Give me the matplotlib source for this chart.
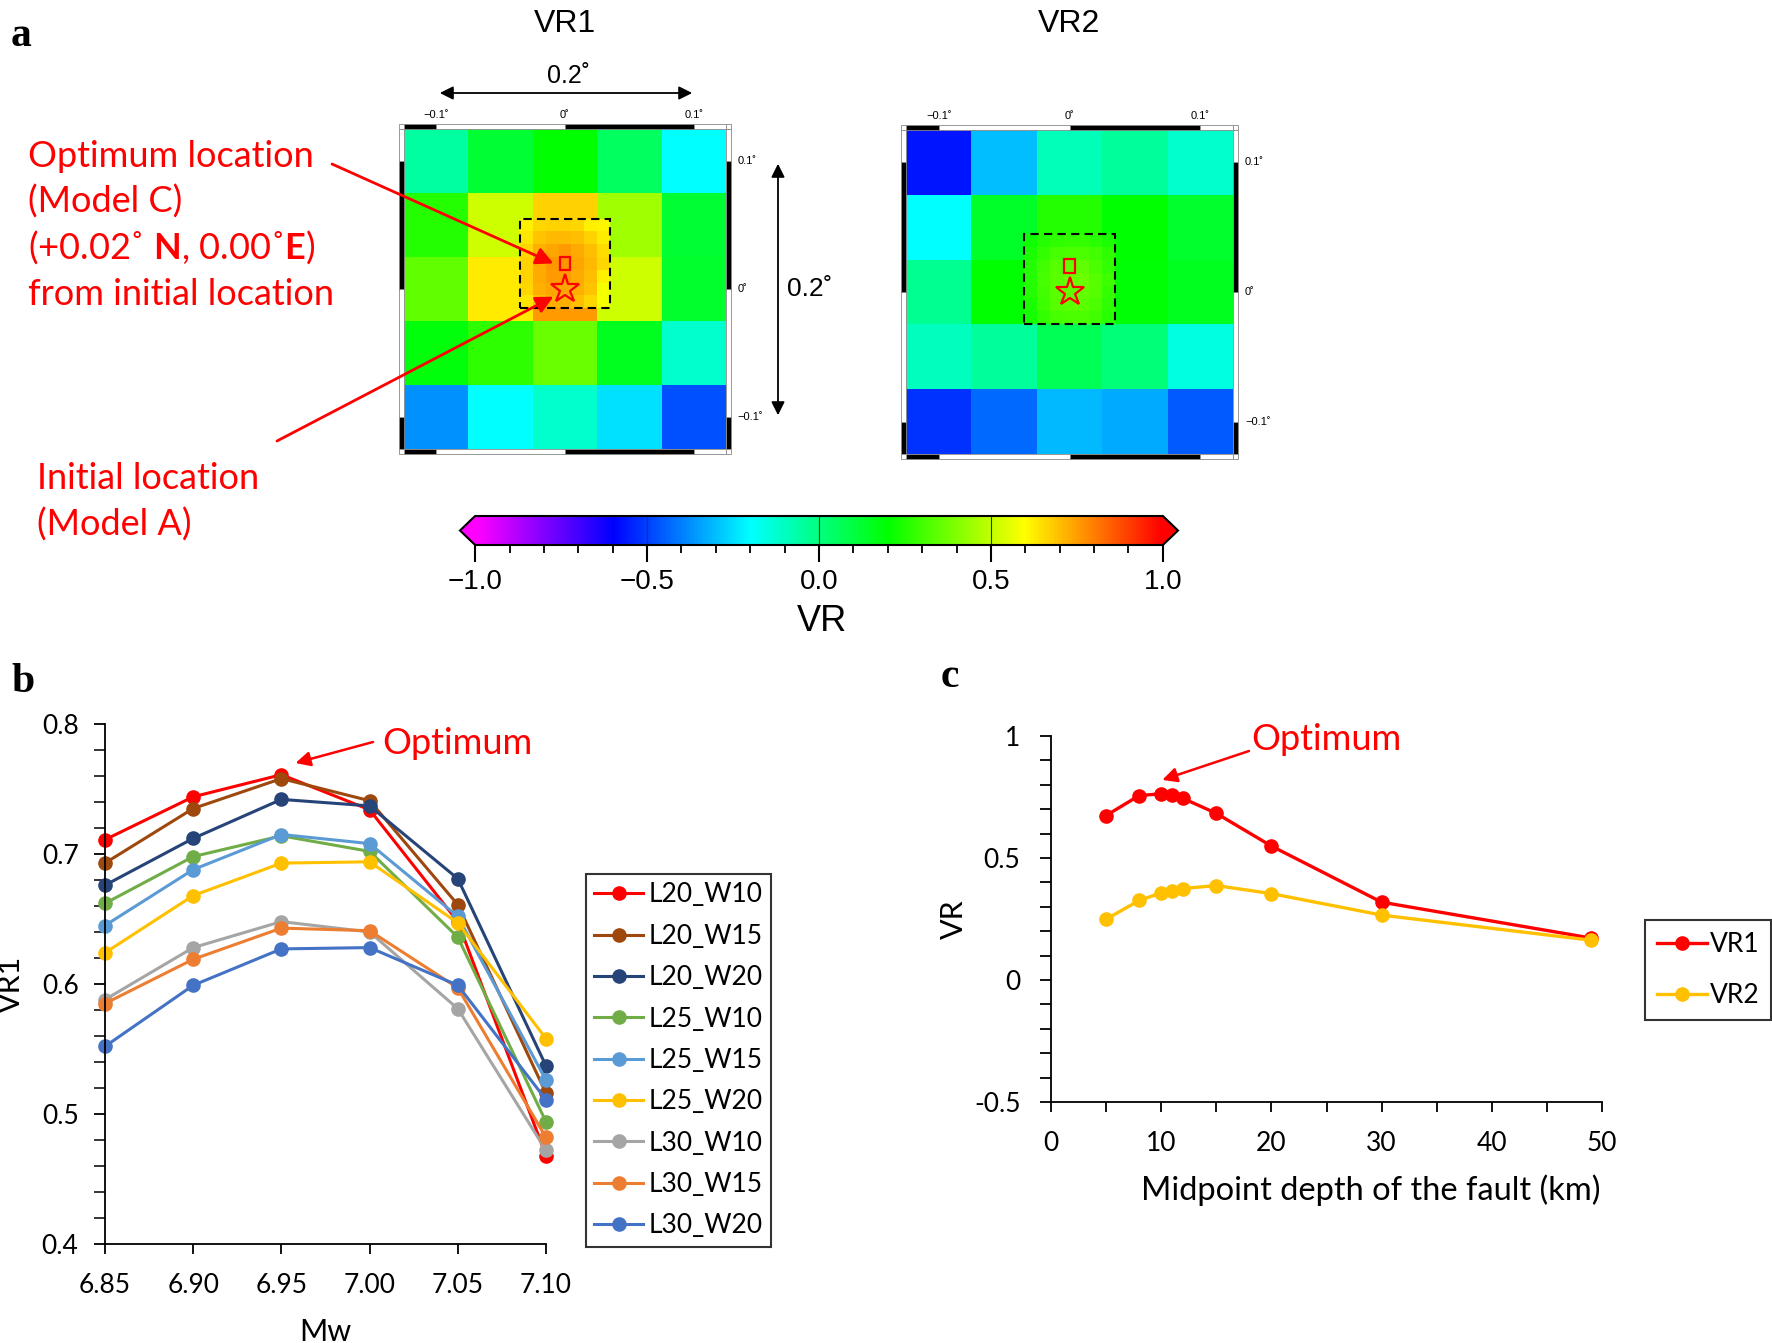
import numpy as np
import matplotlib.pyplot as plt
from matplotlib.colors import LinearSegmentedColormap, Normalize
from matplotlib.patches import Rectangle, FancyArrowPatch
from matplotlib.ticker import MultipleLocator

plt.rcParams['font.family'] = ['Lato', 'DejaVu Sans']
plt.rcParams['mathtext.fontset'] = 'custom'
plt.rcParams['mathtext.rm'] = 'Lato'
plt.rcParams['mathtext.bf'] = 'Lato:bold'

# ---------------- panel a : grid search of the location ----------------
coarse_lon = [-0.10, -0.05, 0.00, 0.05, 0.10]
coarse_lat = [0.10, 0.05, 0.00, -0.05, -0.10]
fine_lon = [-0.03, -0.02, -0.01, 0.00, 0.01, 0.02, 0.03]

vr1_coarse = [
    [-0.05, 0.12, 0.20, 0.05, -0.20],
    [0.25, 0.52, 0.67, 0.45, 0.12],
    [0.35, 0.63, 0.75, 0.52, 0.13],
    [0.18, 0.27, 0.36, 0.15, -0.12],
    [-0.37, -0.20, -0.12, -0.25, -0.47],
]
vr1_fine_lat = [0.05, 0.04, 0.03, 0.02, 0.01, 0.00, -0.01]
vr1_fine = [
    [0.62, 0.66, 0.67, 0.67, 0.66, 0.62, 0.61],
    [0.64, 0.69, 0.71, 0.71, 0.70, 0.67, 0.63],
    [0.66, 0.72, 0.74, 0.75, 0.73, 0.70, 0.65],
    [0.67, 0.73, 0.76, 0.76, 0.74, 0.71, 0.66],
    [0.67, 0.73, 0.75, 0.75, 0.73, 0.70, 0.62],
    [0.66, 0.72, 0.74, 0.74, 0.72, 0.69, 0.58],
    [0.64, 0.70, 0.72, 0.72, 0.70, 0.66, 0.58],
]

vr2_coarse = [
    [-0.57, -0.30, -0.09, -0.04, -0.12],
    [-0.20, 0.14, 0.25, 0.20, 0.13],
    [-0.03, 0.20, 0.28, 0.19, 0.15],
    [-0.10, -0.04, 0.07, 0.01, -0.15],
    [-0.52, -0.43, -0.31, -0.33, -0.46],
]
vr2_fine_lat = [0.04, 0.03, 0.02, 0.01, 0.00, -0.01, -0.02]
vr2_fine = [
    [0.22, 0.25, 0.27, 0.28, 0.28, 0.26, 0.24],
    [0.24, 0.28, 0.31, 0.32, 0.32, 0.30, 0.27],
    [0.25, 0.30, 0.33, 0.35, 0.35, 0.32, 0.28],
    [0.25, 0.31, 0.34, 0.36, 0.36, 0.33, 0.29],
    [0.25, 0.30, 0.34, 0.35, 0.35, 0.33, 0.28],
    [0.24, 0.29, 0.33, 0.34, 0.34, 0.32, 0.27],
    [0.23, 0.28, 0.31, 0.32, 0.32, 0.30, 0.26],
]

opt_loc = (0.0, 0.02)    # Model C
init_loc = (0.0, 0.0)    # Model A

# ---------------- panel b : VR1 vs Mw ----------------
mw = [6.85, 6.90, 6.95, 7.00, 7.05, 7.10]
models = ['L20_W10', 'L20_W15', 'L20_W20', 'L25_W10', 'L25_W15',
          'L25_W20', 'L30_W10', 'L30_W15', 'L30_W20']
model_colors = ['#FF0000', '#9E480E', '#264478', '#70AD47', '#5B9BD5',
                '#FFC000', '#A5A5A5', '#ED7D31', '#4472C4']
vr1_L20_W10 = [0.711, 0.744, 0.761, 0.734, 0.648, 0.468]
vr1_L20_W15 = [0.693, 0.735, 0.758, 0.741, 0.661, 0.516]
vr1_L20_W20 = [0.676, 0.712, 0.742, 0.737, 0.681, 0.537]
vr1_L25_W10 = [0.662, 0.698, 0.714, 0.702, 0.636, 0.494]
vr1_L25_W15 = [0.645, 0.688, 0.715, 0.708, 0.652, 0.526]
vr1_L25_W20 = [0.624, 0.668, 0.693, 0.694, 0.647, 0.558]
vr1_L30_W10 = [0.588, 0.628, 0.648, 0.640, 0.581, 0.472]
vr1_L30_W15 = [0.585, 0.619, 0.643, 0.641, 0.597, 0.482]
vr1_L30_W20 = [0.552, 0.599, 0.627, 0.628, 0.599, 0.511]
vr1_by_model = [vr1_L20_W10, vr1_L20_W15, vr1_L20_W20, vr1_L25_W10, vr1_L25_W15,
                vr1_L25_W20, vr1_L30_W10, vr1_L30_W15, vr1_L30_W20]

# ---------------- panel c : VR vs depth ----------------
depth = [5, 8, 10, 11, 12, 15, 20, 30, 49]
vr1_depth = [0.674, 0.756, 0.763, 0.759, 0.744, 0.683, 0.549, 0.319, 0.172]
vr2_depth = [0.249, 0.326, 0.357, 0.366, 0.375, 0.387, 0.354, 0.266, 0.163]

W, H = 1772, 1343
fig = plt.figure(figsize=(W / 100, H / 100), dpi=100)


def fx(x):
    return x / W


def fy(y):
    return 1 - y / H


def box(x0, y0, x1, y1):
    # pixel box, origin top-left -> figure rect
    return [fx(x0), fy(y1), (x1 - x0) / W, (y1 - y0) / H]


# GMT style rainbow
cmap = LinearSegmentedColormap.from_list(
    'gmt_rainbow', ['#ff00ff', '#0000ff', '#00ffff', '#00ff00', '#ffff00', '#ff0000'])
norm = Normalize(-1, 1)
SANS = 'Liberation Sans'
LIM = 0.125


def gmt_frame(ax, w=0.0042):
    segs = [-LIM, -0.1, 0.0, 0.1, LIM]
    for i in range(4):
        a, b = segs[i], segs[i + 1]
        col = 'black' if i % 2 == 0 else 'white'
        for y0 in (LIM, -LIM - w):
            ax.add_patch(Rectangle((a, y0), b - a, w, fc=col, ec='#888888', lw=0.6, clip_on=False))
        for x0 in (-LIM - w, LIM):
            ax.add_patch(Rectangle((x0, a), w, b - a, fc=col, ec='#888888', lw=0.6, clip_on=False))
    for x0 in (-LIM - w, LIM):
        for y0 in (-LIM - w, LIM):
            ax.add_patch(Rectangle((x0, y0), w, w, fc='white', ec='#888888', lw=0.6, clip_on=False))
    labs = {-0.1: '\u22120.1\u02da', 0.0: '0\u02da', 0.1: '0.1\u02da'}
    for v, s in labs.items():
        ax.text(v, LIM + w + 0.003, s, ha='center', va='bottom', fontsize=8, family=SANS)
        ax.text(LIM + w + 0.005, v, s, ha='left', va='center', fontsize=8, family=SANS)


def heat_panel(rect, coarse, fine, fine_lat, title):
    ax = fig.add_axes(rect)
    ax.pcolormesh(coarse_lon, coarse_lat, np.array(coarse), cmap=cmap, norm=norm, shading='nearest')
    ax.pcolormesh(fine_lon, fine_lat, np.array(fine), cmap=cmap, norm=norm, shading='nearest')
    ax.set_xlim(-LIM, LIM)
    ax.set_ylim(-LIM, LIM)
    ax.axis('off')
    gmt_frame(ax)
    x0, y0 = min(fine_lon) - 0.005, min(fine_lat) - 0.005
    ax.add_patch(Rectangle((x0, y0), max(fine_lon) - min(fine_lon) + 0.01,
                           max(fine_lat) - min(fine_lat) + 0.01, fill=False,
                           ec='black', lw=1.5, ls=(0, (4, 2.5))))
    ax.add_patch(Rectangle((opt_loc[0] - 0.0042, opt_loc[1] - 0.0052), 0.0084, 0.0104,
                           fill=False, ec='red', lw=1.6))
    ax.plot(init_loc[0], init_loc[1], marker='*', ms=21, mfc='none', mec='red', mew=1.6)
    ax.text(0, LIM + 0.0758, title, ha='center', va='baseline', fontsize=23, family=SANS)
    return ax


ax1 = heat_panel(box(404, 129, 726, 449), vr1_coarse, vr1_fine, vr1_fine_lat, 'VR1')
ax2 = heat_panel(box(906, 130, 1233, 454), vr2_coarse, vr2_fine, vr2_fine_lat, 'VR2')

# 0.2 degree scale arrows
fig.add_artist(FancyArrowPatch((fx(437), fy(93)), (fx(695), fy(93)), transform=fig.transFigure,
                               arrowstyle='<|-|>', mutation_scale=20, color='black', lw=1.3))
fig.text(fx(568), fy(83), '0.2\u02da', ha='center', va='baseline', fontsize=18, family=SANS)
fig.add_artist(FancyArrowPatch((fx(778), fy(161)), (fx(778), fy(418)), transform=fig.transFigure,
                               arrowstyle='<|-|>', mutation_scale=20, color='black', lw=1.3))
fig.text(fx(787), fy(289), '0.2\u02da', ha='left', va='center', fontsize=19, family=SANS)

# red annotations
red_kw = dict(color='red', fontsize=26, ha='left', va='baseline')
fig.text(fx(28), fy(167), 'Optimum location', **red_kw)
fig.text(fx(28), fy(213), '(Model C)', **red_kw)
fig.text(fx(28), fy(259), r'(+0.02˚ $\mathbf{N}$, 0.00˚$\mathbf{E}$)', **red_kw)
fig.text(fx(28), fy(305), 'from initial location', **red_kw)
fig.text(fx(37), fy(489), 'Initial location', **red_kw)
fig.text(fx(37), fy(536), '(Model A)', **red_kw)
arrow_kw = dict(arrowstyle='-|>', color='red', lw=2, mutation_scale=26, shrinkA=0, shrinkB=0)
ax1.annotate('', xy=(-0.009, 0.02), xytext=(fx(332), fy(164)), textcoords='figure fraction',
             arrowprops=arrow_kw)
ax1.annotate('', xy=(-0.009, -0.006), xytext=(fx(277), fy(441)), textcoords='figure fraction',
             arrowprops=arrow_kw)

# colorbar
cax = fig.add_axes(box(460, 516, 1178, 545))
sm = plt.cm.ScalarMappable(norm=norm, cmap=cmap)
cb = fig.colorbar(sm, cax=cax, orientation='horizontal', extend='both', extendfrac=0.022)
cb.outline.set_linewidth(1.5)
cb_ticks = [-1.0, -0.5, 0.0, 0.5, 1.0]
cb.set_ticks(cb_ticks)
cb.set_ticklabels([f'{t:.1f}'.replace('-', '\u2212') for t in cb_ticks])
cax.xaxis.set_minor_locator(MultipleLocator(0.1))
cax.tick_params(which='major', length=12, width=1.5, labelsize=20, pad=5)
cax.tick_params(which='minor', length=6, width=1.3)
for lab in cax.get_xticklabels():
    lab.set_family(SANS)
for v in [-0.5, 0.0, 0.5]:
    cax.axvline(v, color='#333333', lw=0.8)
fig.text(fx(822), fy(622), 'VR', ha='center', va='center', fontsize=26, family=SANS)

# panel letters
let_kw = dict(fontsize=30, fontweight='bold', family='Liberation Serif', va='baseline', ha='left')
fig.text(fx(11), fy(46), 'a', **let_kw)
fig.text(fx(11), fy(692), 'b', **let_kw)
fig.text(fx(941), fy(687), 'c', **let_kw)

# ---------------- panel b ----------------
axb = fig.add_axes(box(105, 724, 546, 1244))
for name, vals, col in zip(models, vr1_by_model, model_colors):
    axb.plot(mw, vals, '-o', color=col, lw=2.2, ms=9.5, label=name, clip_on=False)
axb.set_xlim(6.85, 7.10)
axb.set_ylim(0.4, 0.8)
axb.set_xticks(mw)
axb.set_xticklabels([f'{m:.2f}' for m in mw])
axb.set_yticks([0.4, 0.5, 0.6, 0.7, 0.8])
axb.set_yticklabels(['0.4', '0.5', '0.6', '0.7', '0.8'])
axb.yaxis.set_minor_locator(MultipleLocator(0.02))
for s in ['top', 'right']:
    axb.spines[s].set_visible(False)
for s in ['left', 'bottom']:
    axb.spines[s].set_linewidth(1.3)
axb.tick_params(axis='x', which='major', length=7, width=1.3, labelsize=19, pad=14)
axb.tick_params(axis='y', which='major', length=8, width=1.3, labelsize=19, pad=11)
axb.tick_params(axis='y', which='minor', length=8, width=1.1)
axb.set_ylabel('VR1', fontsize=22, labelpad=12)
axb.set_xlabel('Mw', fontsize=22, labelpad=14)
leg = axb.legend(loc='upper left', bbox_to_anchor=(fx(586), fy(874)), bbox_transform=fig.transFigure,
                 fontsize=19, frameon=True, fancybox=False, edgecolor='black',
                 handlelength=1.85, handletextpad=0.2, labelspacing=0.62, borderpad=0.32,
                 borderaxespad=0)
leg.get_frame().set_linewidth(1.5)
axb.annotate('', xy=(6.958, 0.770), xytext=(fx(373), fy(742)), textcoords='figure fraction',
             arrowprops=dict(arrowstyle='-|>', color='red', lw=1.8, mutation_scale=22, shrinkA=0, shrinkB=0))
fig.text(fx(382), fy(744), 'Optimum', color='red', fontsize=26, ha='left', va='center')

# ---------------- panel c ----------------
axc = fig.add_axes(box(1051, 736, 1602, 1102))
axc.plot(depth, vr1_depth, '-o', color='#FF0000', lw=2.4, ms=9.5, label='VR1', clip_on=False)
axc.plot(depth, vr2_depth, '-o', color='#FFC000', lw=2.4, ms=9.5, label='VR2', clip_on=False)
axc.set_xlim(0, 50)
axc.set_ylim(-0.5, 1.0)
axc.set_xticks([0, 10, 20, 30, 40, 50])
axc.xaxis.set_minor_locator(MultipleLocator(5))
axc.set_yticks([-0.5, 0.0, 0.5, 1.0])
axc.set_yticklabels(['-0.5', '0', '0.5', '1'])
axc.yaxis.set_minor_locator(MultipleLocator(0.1))
for s in ['top', 'right']:
    axc.spines[s].set_visible(False)
for s in ['left', 'bottom']:
    axc.spines[s].set_linewidth(1.3)
axc.tick_params(axis='x', which='both', length=7, width=1.3, labelsize=19, pad=14)
axc.tick_params(axis='y', which='both', length=8, width=1.3, labelsize=19, pad=14)
axc.set_ylabel('VR', fontsize=22, labelpad=4)
fig.text(fx(1371), fy(1190), 'Midpoint depth of the fault (km)', fontsize=23.5, ha='center', va='center')
legc = axc.legend(loc='upper left', bbox_to_anchor=(fx(1645), fy(920)), bbox_transform=fig.transFigure,
                  fontsize=19, frameon=True, fancybox=False, edgecolor='black',
                  handlelength=1.9, handletextpad=0.1, labelspacing=1.0, borderpad=0.45,
                  borderaxespad=0)
legc.get_frame().set_linewidth(1.5)
axc.annotate('', xy=(10.1, 0.82), xytext=(fx(1249), fy(751)), textcoords='figure fraction',
             arrowprops=dict(arrowstyle='-|>', color='red', lw=1.8, mutation_scale=22, shrinkA=0, shrinkB=0))
fig.text(fx(1251), fy(740), 'Optimum', color='red', fontsize=26, ha='left', va='center')

fig.savefig('out.png', dpi=100)
